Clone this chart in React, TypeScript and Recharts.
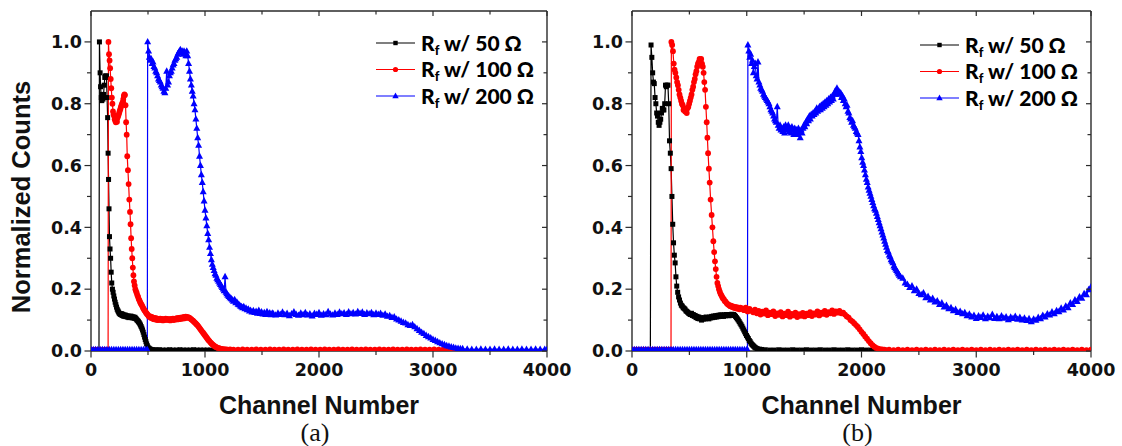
import React from 'react';
import { LineChart, Line, XAxis, YAxis, Legend } from 'recharts';

type Pt = [number, number];

// ---------- axes / labels ----------
const CHANNEL_TICKS = [0, 500, 1000, 1500, 2000, 2500, 3000, 3500, 4000];
const CHANNEL_MAJOR = [0, 1000, 2000, 3000, 4000];
const COUNT_TICKS = [0, 0.1, 0.2, 0.3, 0.4, 0.5, 0.6, 0.7, 0.8, 0.9, 1.0];
const COUNT_MAJOR = [0, 0.2, 0.4, 0.6, 0.8, 1.0];
const SERIES_LABELS = ['50 Ω', '100 Ω', '200 Ω'];
const SERIES_COLORS = ['#000000', '#ff0000', '#0000ff'];
const X_TITLE = 'Channel Number';
const Y_TITLE = 'Normalized Counts';

// ---------- panel (a) ----------
const A_50: Pt[] = [
  [0, 0.004], [20, 0.004], [40, 0.004], [60, 0.004], [70, 0.004], [74, 1.0], [80, 0.9], [84, 0.855], [90, 0.82], [95, 0.81],
  [100, 0.83], [105, 0.815], [110, 0.83], [116, 0.86], [121, 0.885], [126, 0.89], [131, 0.885], [136, 0.89], [141, 0.82], [146, 0.755],
  [150, 0.64], [154, 0.555], [158, 0.46], [162, 0.37], [167, 0.33], [172, 0.3], [177, 0.255], [182, 0.22], [188, 0.2], [194, 0.19],
  [200, 0.178], [206, 0.168], [212, 0.158], [218, 0.15], [224, 0.142], [230, 0.135], [236, 0.13], [242, 0.126], [248, 0.122], [254, 0.12],
  [260, 0.118], [266, 0.121], [272, 0.115], [278, 0.119], [284, 0.113], [290, 0.117], [296, 0.112], [302, 0.116], [308, 0.111], [314, 0.114],
  [320, 0.11], [326, 0.113], [332, 0.108], [338, 0.112], [344, 0.109], [350, 0.113], [356, 0.108], [362, 0.111], [368, 0.107], [374, 0.11],
  [380, 0.106], [386, 0.109], [392, 0.105], [398, 0.103], [404, 0.1], [410, 0.098], [416, 0.095], [422, 0.092], [428, 0.088], [434, 0.084],
  [440, 0.079], [446, 0.074], [452, 0.068], [458, 0.061], [464, 0.053], [470, 0.045], [476, 0.037], [482, 0.03], [488, 0.023], [494, 0.017],
  [500, 0.012], [508, 0.009], [516, 0.007], [526, 0.005], [540, 0.004], [560, 0.004], [580, 0.003], [600, 0.004], [630, 0.003], [660, 0.003],
  [690, 0.004], [720, 0.003], [750, 0.003], [780, 0.004], [810, 0.003], [840, 0.003], [870, 0.003], [900, 0.004], [930, 0.003], [960, 0.003],
  [990, 0.003], [1020, 0.003], [1050, 0.003], [1080, 0.003], [1110, 0.003], [1140, 0.003], [1170, 0.003], [1200, 0.003],
];

const A_100: Pt[] = [
  [0, 0.004], [40, 0.004], [80, 0.004], [120, 0.004], [150, 0.004], [153, 1.0], [158, 0.96], [163, 0.94], [168, 0.915], [173, 0.88],
  [178, 0.85], [183, 0.82], [188, 0.8], [193, 0.775], [198, 0.765], [203, 0.76], [208, 0.75], [213, 0.745], [218, 0.74], [223, 0.748],
  [228, 0.742], [233, 0.755], [238, 0.76], [243, 0.765], [248, 0.772], [253, 0.778], [258, 0.783], [263, 0.79], [268, 0.795], [273, 0.8],
  [278, 0.805], [283, 0.815], [288, 0.825], [293, 0.83], [298, 0.828], [303, 0.795], [308, 0.74], [313, 0.7], [318, 0.63], [324, 0.585],
  [330, 0.54], [336, 0.49], [342, 0.45], [347, 0.41], [352, 0.365], [357, 0.33], [362, 0.3], [367, 0.27], [372, 0.245], [377, 0.225],
  [383, 0.212], [389, 0.2], [395, 0.193], [401, 0.188], [407, 0.18], [413, 0.175], [419, 0.168], [425, 0.164], [431, 0.158], [437, 0.154],
  [443, 0.15], [449, 0.146], [455, 0.141], [461, 0.137], [467, 0.133], [473, 0.13], [479, 0.126], [485, 0.123], [491, 0.12], [497, 0.118],
  [503, 0.114], [509, 0.112], [515, 0.11], [521, 0.112], [527, 0.107], [533, 0.11], [539, 0.105], [545, 0.108], [551, 0.103], [557, 0.107],
  [563, 0.102], [569, 0.106], [575, 0.101], [581, 0.105], [587, 0.1], [593, 0.104], [599, 0.101], [607, 0.105], [615, 0.1], [623, 0.104],
  [631, 0.099], [639, 0.103], [647, 0.1], [655, 0.105], [663, 0.101], [671, 0.104], [679, 0.1], [687, 0.103], [695, 0.099], [703, 0.104],
  [711, 0.101], [719, 0.105], [727, 0.1], [735, 0.104], [743, 0.102], [751, 0.106], [759, 0.102], [767, 0.107], [775, 0.103], [783, 0.108],
  [791, 0.104], [799, 0.109], [807, 0.105], [815, 0.11], [823, 0.106], [831, 0.111], [839, 0.108], [847, 0.11], [855, 0.107], [863, 0.108],
  [871, 0.105], [879, 0.103], [887, 0.1], [895, 0.098], [903, 0.095], [911, 0.092], [919, 0.089], [927, 0.086], [935, 0.083], [943, 0.079],
  [951, 0.075], [959, 0.071], [967, 0.067], [975, 0.063], [983, 0.059], [991, 0.055], [999, 0.051], [1007, 0.047], [1015, 0.043], [1023, 0.039],
  [1031, 0.035], [1039, 0.032], [1047, 0.028], [1055, 0.025], [1063, 0.022], [1071, 0.02], [1079, 0.017], [1087, 0.015], [1095, 0.013], [1103, 0.012],
  [1113, 0.01], [1123, 0.009], [1135, 0.008], [1150, 0.007], [1170, 0.006], [1190, 0.005], [1220, 0.005], [1250, 0.004], [1290, 0.004], [1330, 0.005],
  [1370, 0.004], [1410, 0.004], [1450, 0.005], [1490, 0.004], [1530, 0.004], [1570, 0.005], [1610, 0.004], [1650, 0.004], [1690, 0.005], [1730, 0.004],
  [1770, 0.004], [1810, 0.005], [1850, 0.004], [1890, 0.004], [1930, 0.005], [1970, 0.004], [2010, 0.004], [2050, 0.005], [2090, 0.004], [2130, 0.004],
  [2170, 0.005], [2210, 0.004], [2250, 0.004], [2290, 0.005], [2330, 0.004], [2370, 0.004], [2410, 0.005], [2450, 0.004], [2490, 0.004], [2530, 0.005],
  [2570, 0.004], [2610, 0.004], [2650, 0.005], [2690, 0.004], [2730, 0.004], [2770, 0.005], [2810, 0.004], [2850, 0.004], [2890, 0.005], [2930, 0.004],
  [2970, 0.004], [3010, 0.005], [3050, 0.004], [3090, 0.004], [3130, 0.005], [3170, 0.004], [3200, 0.004],
];

const A_200: Pt[] = [
  [0, 0.004], [20, 0.004], [40, 0.004], [60, 0.004], [80, 0.004], [100, 0.004], [120, 0.004], [140, 0.004], [160, 0.004], [180, 0.004],
  [200, 0.004], [220, 0.004], [240, 0.004], [260, 0.004], [280, 0.004], [300, 0.004], [320, 0.004], [340, 0.004], [360, 0.004], [380, 0.004],
  [400, 0.004], [420, 0.004], [440, 0.004], [460, 0.004], [480, 0.004], [494, 0.004],
  [497, 1.0], [505, 0.97], [512, 0.95], [520, 0.94], [528, 0.945], [536, 0.93], [544, 0.935], [552, 0.92], [560, 0.915], [568, 0.905],
  [576, 0.9], [584, 0.89], [592, 0.88], [600, 0.875], [608, 0.87], [616, 0.86], [624, 0.855], [632, 0.85], [640, 0.84], [648, 0.835],
  [656, 0.85], [664, 0.905], [672, 0.86], [680, 0.87], [688, 0.89], [696, 0.9], [704, 0.905], [712, 0.915], [720, 0.925], [728, 0.93],
  [736, 0.94], [744, 0.945], [752, 0.95], [760, 0.96], [768, 0.965], [776, 0.97], [784, 0.975], [792, 0.965], [800, 0.97], [808, 0.96],
  [816, 0.97], [824, 0.965], [832, 0.955], [840, 0.97], [848, 0.955], [856, 0.93], [864, 0.905], [872, 0.88], [880, 0.86], [888, 0.84],
  [896, 0.825], [904, 0.8], [912, 0.78], [920, 0.75], [928, 0.72], [936, 0.69], [944, 0.665], [952, 0.63], [960, 0.6], [968, 0.57],
  [976, 0.545], [984, 0.515], [992, 0.485], [1000, 0.455], [1008, 0.43], [1016, 0.405], [1024, 0.38], [1032, 0.36], [1040, 0.335], [1048, 0.315],
  [1056, 0.295], [1064, 0.28], [1072, 0.27], [1080, 0.26], [1088, 0.25], [1096, 0.245], [1104, 0.235], [1112, 0.23], [1120, 0.225], [1128, 0.22],
  [1136, 0.215], [1144, 0.21], [1152, 0.205], [1160, 0.2], [1168, 0.195], [1176, 0.24], [1184, 0.19], [1192, 0.185], [1200, 0.18], [1210, 0.176],
  [1220, 0.172], [1230, 0.169], [1240, 0.165], [1250, 0.161], [1260, 0.166], [1270, 0.156], [1280, 0.158], [1290, 0.151], [1300, 0.149], [1310, 0.145],
  [1320, 0.143], [1330, 0.14], [1340, 0.143], [1350, 0.136], [1360, 0.138], [1370, 0.133], [1380, 0.135], [1390, 0.129], [1400, 0.131], [1412, 0.126],
  [1424, 0.13], [1436, 0.124], [1448, 0.128], [1460, 0.122], [1472, 0.131], [1484, 0.121], [1496, 0.126], [1508, 0.119], [1520, 0.124], [1532, 0.118],
  [1544, 0.127], [1556, 0.119], [1568, 0.123], [1580, 0.117], [1590, 0.122], [1600, 0.12], [1620, 0.116], [1640, 0.122], [1660, 0.118], [1680, 0.125],
  [1700, 0.117], [1720, 0.121], [1740, 0.114], [1760, 0.12], [1780, 0.126], [1800, 0.118], [1820, 0.115], [1840, 0.122], [1860, 0.117], [1880, 0.124],
  [1900, 0.116], [1920, 0.12], [1940, 0.113], [1960, 0.121], [1980, 0.118], [2000, 0.124], [2020, 0.115], [2040, 0.12], [2060, 0.117], [2080, 0.127],
  [2100, 0.119], [2120, 0.116], [2140, 0.122], [2160, 0.118], [2180, 0.125], [2200, 0.12], [2220, 0.123], [2240, 0.118], [2260, 0.126], [2280, 0.12],
  [2300, 0.124], [2320, 0.119], [2340, 0.127], [2360, 0.121], [2380, 0.125], [2400, 0.118], [2420, 0.123], [2440, 0.12], [2460, 0.124], [2480, 0.117],
  [2500, 0.122], [2520, 0.118], [2540, 0.121], [2560, 0.115], [2580, 0.119], [2600, 0.112], [2620, 0.114], [2640, 0.108], [2660, 0.11], [2680, 0.103],
  [2700, 0.1], [2720, 0.096], [2740, 0.092], [2760, 0.09], [2780, 0.085], [2800, 0.082], [2820, 0.085], [2840, 0.078], [2860, 0.072], [2880, 0.066],
  [2900, 0.06], [2920, 0.056], [2940, 0.05], [2960, 0.046], [2980, 0.042], [3000, 0.037], [3020, 0.034], [3040, 0.03], [3060, 0.026], [3080, 0.023],
  [3100, 0.02], [3120, 0.017], [3140, 0.015], [3160, 0.013], [3180, 0.011], [3200, 0.009], [3220, 0.008], [3240, 0.007], [3260, 0.007], [3300, 0.006],
  [3340, 0.005], [3380, 0.005], [3420, 0.006], [3460, 0.005], [3500, 0.005], [3540, 0.006], [3580, 0.005], [3620, 0.005], [3660, 0.006], [3700, 0.005],
  [3740, 0.005], [3780, 0.006], [3820, 0.005], [3860, 0.005], [3900, 0.006], [3940, 0.005], [3980, 0.005], [4000, 0.005],
];

// ---------- panel (b) ----------
const B_50: Pt[] = [
  [0, 0.004], [20, 0.004], [40, 0.004], [60, 0.004], [80, 0.004], [100, 0.004], [120, 0.004], [140, 0.004], [160, 0.004],
  [166, 0.99], [173, 0.95], [180, 0.9], [187, 0.87], [194, 0.865], [201, 0.82], [208, 0.8], [215, 0.77], [222, 0.76], [229, 0.74],
  [236, 0.73], [243, 0.74], [250, 0.75], [257, 0.77], [264, 0.785], [271, 0.78], [278, 0.78], [285, 0.8], [292, 0.86], [299, 0.855],
  [306, 0.86], [313, 0.86], [320, 0.8], [327, 0.68], [334, 0.64], [341, 0.59], [348, 0.5], [355, 0.41], [362, 0.35], [369, 0.31],
  [376, 0.285], [383, 0.24], [390, 0.21], [398, 0.19], [406, 0.175], [414, 0.165], [422, 0.155], [430, 0.148], [438, 0.145], [446, 0.14],
  [454, 0.138], [462, 0.135], [470, 0.13], [478, 0.128], [486, 0.125], [494, 0.122], [502, 0.12], [510, 0.118], [518, 0.122], [526, 0.115],
  [534, 0.118], [542, 0.112], [550, 0.115], [558, 0.108], [566, 0.112], [574, 0.105], [582, 0.11], [590, 0.104], [598, 0.108], [606, 0.1],
  [614, 0.106], [622, 0.103], [630, 0.108], [638, 0.104], [646, 0.11], [654, 0.106], [662, 0.108], [670, 0.104], [678, 0.11], [686, 0.107],
  [694, 0.112], [702, 0.108], [710, 0.113], [718, 0.109], [726, 0.114], [734, 0.11], [742, 0.115], [750, 0.111], [758, 0.116], [766, 0.112],
  [774, 0.117], [782, 0.113], [790, 0.116], [798, 0.112], [806, 0.117], [814, 0.114], [822, 0.118], [830, 0.115], [838, 0.118], [846, 0.114],
  [854, 0.118], [862, 0.116], [870, 0.119], [878, 0.116], [886, 0.118], [894, 0.115], [902, 0.112], [910, 0.108], [918, 0.104], [926, 0.1],
  [934, 0.095], [942, 0.09], [950, 0.085], [958, 0.08], [966, 0.074], [974, 0.068], [982, 0.062], [990, 0.056], [998, 0.05], [1006, 0.045],
  [1014, 0.04], [1022, 0.034], [1030, 0.03], [1038, 0.025], [1046, 0.021], [1054, 0.018], [1062, 0.015], [1070, 0.012], [1078, 0.01], [1090, 0.008],
  [1110, 0.006], [1130, 0.005], [1160, 0.004], [1200, 0.003], [1240, 0.003], [1280, 0.004], [1320, 0.003], [1360, 0.003], [1400, 0.004], [1440, 0.003],
  [1480, 0.003], [1520, 0.004], [1560, 0.003], [1600, 0.003], [1640, 0.004], [1680, 0.003], [1720, 0.003], [1760, 0.004], [1800, 0.003], [1840, 0.003],
  [1880, 0.004], [1920, 0.003], [1960, 0.003], [2000, 0.004], [2040, 0.003], [2080, 0.003], [2120, 0.004], [2160, 0.003], [2200, 0.003],
];

const B_100: Pt[] = [
  [0, 0.004], [20, 0.004], [40, 0.004], [60, 0.004], [80, 0.004], [100, 0.004], [120, 0.004], [140, 0.004], [160, 0.004], [180, 0.004],
  [200, 0.004], [220, 0.004], [240, 0.004], [260, 0.004], [280, 0.004], [300, 0.004], [320, 0.004], [340, 0.004],
  [343, 1.0], [350, 0.99], [357, 0.97], [364, 0.93], [371, 0.91], [378, 0.9], [386, 0.885], [393, 0.87], [400, 0.86], [407, 0.845],
  [414, 0.83], [421, 0.82], [428, 0.81], [435, 0.8], [442, 0.795], [449, 0.78], [456, 0.785], [463, 0.775], [470, 0.78], [477, 0.77],
  [484, 0.785], [491, 0.79], [498, 0.8], [505, 0.81], [512, 0.82], [519, 0.83], [526, 0.845], [533, 0.855], [540, 0.87], [547, 0.88],
  [554, 0.895], [561, 0.905], [568, 0.92], [575, 0.93], [582, 0.935], [589, 0.945], [596, 0.94], [603, 0.945], [610, 0.93], [617, 0.92],
  [624, 0.9], [630, 0.87], [637, 0.845], [644, 0.79], [651, 0.74], [657, 0.69], [663, 0.64], [670, 0.59], [677, 0.545], [685, 0.49],
  [694, 0.44], [701, 0.4], [709, 0.355], [716, 0.32], [723, 0.29], [730, 0.265], [737, 0.24], [744, 0.22], [751, 0.21], [758, 0.2],
  [765, 0.192], [772, 0.185], [779, 0.18], [786, 0.175], [793, 0.17], [800, 0.168], [808, 0.162], [816, 0.16], [824, 0.155], [832, 0.152],
  [840, 0.15], [848, 0.148], [856, 0.145], [864, 0.147], [872, 0.142], [880, 0.144], [888, 0.14], [896, 0.143], [904, 0.138], [912, 0.142],
  [920, 0.137], [928, 0.14], [936, 0.135], [944, 0.14], [952, 0.136], [960, 0.138], [976, 0.132], [992, 0.14], [1008, 0.128], [1024, 0.136],
  [1040, 0.13], [1056, 0.125], [1072, 0.134], [1088, 0.122], [1104, 0.13], [1120, 0.118], [1136, 0.127], [1152, 0.121], [1168, 0.131], [1184, 0.116],
  [1200, 0.124], [1216, 0.119], [1232, 0.128], [1248, 0.113], [1264, 0.122], [1280, 0.117], [1296, 0.126], [1312, 0.112], [1328, 0.121], [1344, 0.116],
  [1360, 0.127], [1376, 0.111], [1392, 0.12], [1408, 0.115], [1424, 0.124], [1440, 0.11], [1456, 0.119], [1472, 0.114], [1488, 0.123], [1504, 0.112],
  [1520, 0.121], [1536, 0.116], [1552, 0.126], [1568, 0.113], [1584, 0.122], [1600, 0.118], [1616, 0.128], [1632, 0.115], [1648, 0.124], [1664, 0.12],
  [1680, 0.13], [1696, 0.117], [1712, 0.126], [1728, 0.122], [1744, 0.131], [1760, 0.12], [1776, 0.128], [1792, 0.124], [1808, 0.13], [1824, 0.122],
  [1840, 0.124], [1856, 0.118], [1872, 0.112], [1888, 0.108], [1904, 0.1], [1920, 0.096], [1936, 0.09], [1952, 0.084], [1968, 0.078], [1984, 0.07],
  [2000, 0.062], [2016, 0.055], [2032, 0.047], [2048, 0.04], [2064, 0.032], [2080, 0.025], [2096, 0.019], [2112, 0.014], [2128, 0.01], [2144, 0.008],
  [2160, 0.006], [2180, 0.005], [2200, 0.004], [2240, 0.004], [2280, 0.003], [2320, 0.004], [2360, 0.003], [2400, 0.004], [2440, 0.003], [2480, 0.004],
  [2520, 0.003], [2560, 0.004], [2600, 0.003], [2640, 0.004], [2680, 0.003], [2720, 0.004], [2760, 0.003], [2800, 0.004], [2840, 0.003], [2880, 0.004],
  [2920, 0.003], [2960, 0.004], [3000, 0.003], [3040, 0.004], [3080, 0.003], [3120, 0.004], [3160, 0.003], [3200, 0.004], [3240, 0.003], [3280, 0.004],
  [3320, 0.003], [3360, 0.004], [3400, 0.003], [3440, 0.004], [3480, 0.003], [3520, 0.004], [3560, 0.003], [3600, 0.004], [3640, 0.003], [3680, 0.004],
  [3720, 0.003], [3760, 0.004], [3800, 0.003], [3840, 0.004], [3880, 0.003], [3920, 0.004], [3960, 0.003], [4000, 0.004],
];

const B_200: Pt[] = [
  [0, 0.004], [20, 0.004], [40, 0.004], [60, 0.004], [80, 0.004], [100, 0.004], [120, 0.004], [140, 0.004], [160, 0.004], [180, 0.004],
  [200, 0.004], [220, 0.004], [240, 0.004], [260, 0.004], [280, 0.004], [300, 0.004], [320, 0.004], [340, 0.004], [360, 0.004], [380, 0.004],
  [400, 0.004], [420, 0.004], [440, 0.004], [460, 0.004], [480, 0.004], [500, 0.004], [520, 0.004], [540, 0.004], [560, 0.004], [580, 0.004],
  [600, 0.004], [620, 0.004], [640, 0.004], [660, 0.004], [680, 0.004], [700, 0.004], [720, 0.004], [740, 0.004], [760, 0.004], [780, 0.004],
  [800, 0.004], [820, 0.004], [840, 0.004], [860, 0.004], [880, 0.004], [900, 0.004], [920, 0.004], [940, 0.004], [960, 0.004], [980, 0.004],
  [1000, 0.004], [1006, 0.004],
  [1010, 0.99], [1018, 0.97], [1026, 0.95], [1034, 0.96], [1042, 0.93], [1050, 0.94], [1058, 0.9], [1066, 0.92], [1074, 0.93], [1082, 0.89],
  [1090, 0.88], [1098, 0.935], [1106, 0.87], [1114, 0.86], [1122, 0.85], [1130, 0.845], [1138, 0.84], [1146, 0.83], [1154, 0.825], [1162, 0.82],
  [1170, 0.815], [1178, 0.81], [1186, 0.805], [1194, 0.8], [1202, 0.79], [1210, 0.78], [1218, 0.775], [1226, 0.77], [1234, 0.76], [1242, 0.75],
  [1250, 0.745], [1258, 0.74], [1266, 0.79], [1274, 0.73], [1282, 0.72], [1290, 0.73], [1298, 0.715], [1306, 0.72], [1314, 0.71], [1322, 0.725],
  [1330, 0.705], [1338, 0.73], [1346, 0.72], [1354, 0.715], [1362, 0.73], [1370, 0.71], [1378, 0.72], [1386, 0.705], [1394, 0.725], [1402, 0.715],
  [1410, 0.7], [1418, 0.72], [1426, 0.705], [1434, 0.715], [1442, 0.7], [1450, 0.72], [1458, 0.71], [1466, 0.69], [1474, 0.715], [1482, 0.705],
  [1490, 0.72], [1498, 0.73], [1506, 0.725], [1514, 0.74], [1522, 0.735], [1530, 0.75], [1538, 0.745], [1546, 0.76], [1554, 0.75], [1562, 0.765],
  [1570, 0.76], [1578, 0.77], [1586, 0.765], [1594, 0.775], [1602, 0.77], [1610, 0.785], [1618, 0.775], [1626, 0.78], [1634, 0.79], [1642, 0.78],
  [1650, 0.795], [1658, 0.785], [1666, 0.8], [1674, 0.79], [1682, 0.805], [1690, 0.795], [1698, 0.81], [1706, 0.8], [1714, 0.815], [1722, 0.805],
  [1730, 0.82], [1738, 0.81], [1746, 0.825], [1754, 0.815], [1762, 0.83], [1770, 0.84], [1778, 0.83], [1786, 0.85], [1794, 0.835], [1802, 0.84],
  [1810, 0.83], [1818, 0.835], [1826, 0.82], [1834, 0.825], [1842, 0.81], [1850, 0.815], [1858, 0.8], [1866, 0.79], [1874, 0.795], [1882, 0.775],
  [1890, 0.77], [1898, 0.755], [1906, 0.75], [1914, 0.74], [1922, 0.745], [1930, 0.73], [1938, 0.725], [1946, 0.72], [1954, 0.71], [1962, 0.705],
  [1970, 0.7], [1978, 0.68], [1986, 0.66], [1994, 0.645], [2002, 0.625], [2010, 0.61], [2018, 0.6], [2026, 0.585], [2034, 0.57], [2042, 0.555],
  [2050, 0.545], [2058, 0.53], [2066, 0.52], [2074, 0.51], [2082, 0.5], [2090, 0.49], [2098, 0.48], [2106, 0.47], [2114, 0.46], [2122, 0.455],
  [2130, 0.445], [2138, 0.435], [2146, 0.425], [2154, 0.415], [2162, 0.405], [2170, 0.395], [2178, 0.385], [2186, 0.375], [2194, 0.365], [2202, 0.355],
  [2210, 0.345], [2218, 0.335], [2226, 0.325], [2234, 0.32], [2242, 0.31], [2250, 0.305], [2258, 0.295], [2266, 0.29], [2274, 0.285], [2282, 0.275],
  [2290, 0.27], [2298, 0.265], [2306, 0.26], [2314, 0.255], [2322, 0.25], [2330, 0.245], [2340, 0.24], [2360, 0.235], [2380, 0.22], [2400, 0.215],
  [2420, 0.205], [2440, 0.21], [2460, 0.195], [2480, 0.2], [2500, 0.186], [2520, 0.182], [2540, 0.188], [2560, 0.172], [2580, 0.176], [2600, 0.165],
  [2620, 0.17], [2640, 0.158], [2660, 0.162], [2680, 0.15], [2700, 0.155], [2720, 0.142], [2740, 0.147], [2760, 0.136], [2780, 0.14], [2800, 0.13],
  [2820, 0.134], [2840, 0.124], [2860, 0.128], [2880, 0.12], [2900, 0.124], [2920, 0.114], [2940, 0.119], [2960, 0.11], [2980, 0.115], [3000, 0.105],
  [3020, 0.113], [3040, 0.108], [3060, 0.116], [3080, 0.104], [3100, 0.112], [3120, 0.107], [3140, 0.118], [3160, 0.105], [3180, 0.111], [3200, 0.104],
  [3220, 0.113], [3240, 0.106], [3260, 0.11], [3280, 0.101], [3300, 0.109], [3320, 0.105], [3340, 0.112], [3360, 0.102], [3380, 0.108], [3400, 0.1],
  [3420, 0.106], [3440, 0.098], [3460, 0.104], [3480, 0.094], [3500, 0.103], [3520, 0.099], [3540, 0.108], [3560, 0.104], [3580, 0.115], [3600, 0.11],
  [3620, 0.12], [3640, 0.116], [3660, 0.126], [3680, 0.12], [3700, 0.13], [3720, 0.127], [3740, 0.138], [3760, 0.132], [3780, 0.145], [3800, 0.14],
  [3820, 0.155], [3840, 0.15], [3860, 0.165], [3880, 0.16], [3900, 0.175], [3920, 0.17], [3940, 0.185], [3960, 0.182], [3980, 0.198], [4000, 0.207],
];

// ---------- rendering helpers ----------
const AXIS_COLOR = '#2a2a2a';
const TICK_FONT = '"DejaVu Sans", "Liberation Sans", sans-serif';
const TITLE_FONT = '"Liberation Sans", Arial, sans-serif';

const toRows = (pts: Pt[]) => pts.map(([ch, v]) => ({ ch, v }));

type Side = 'left' | 'right' | 'top' | 'bottom';

const makeTick = (side: Side, major: number[], fmt: ((v: number) => string) | null) => (props: any) => {
  const { x, y, payload } = props;
  const v = payload?.value as number;
  const isMajor = major.includes(v);
  const outLen = isMajor ? 6.5 : 4;
  const inLen = isMajor ? 5 : 3.5;
  let line: React.ReactNode = null;
  let text: React.ReactNode = null;
  const common = { stroke: AXIS_COLOR, strokeWidth: 1.2 };
  if (side === 'left') {
    line = <line x1={x - outLen} x2={x} y1={y} y2={y} {...common} />;
    if (isMajor && fmt)
      text = (
        <text x={x - 9} y={y} dy="0.36em" textAnchor="end" fontFamily={TICK_FONT} fontWeight={700} fontSize={17.5} fill="#111">
          {fmt(v)}
        </text>
      );
  } else if (side === 'bottom') {
    line = <line x1={x} x2={x} y1={y} y2={y + outLen} {...common} />;
    if (isMajor && fmt)
      text = (
        <text x={x} y={y + 19} dy="0.36em" textAnchor="middle" fontFamily={TICK_FONT} fontWeight={700} fontSize={17.5} fill="#111">
          {fmt(v)}
        </text>
      );
  } else if (side === 'top') {
    line = <line x1={x} x2={x} y1={y} y2={y + inLen} {...common} />;
  } else {
    line = <line x1={x - inLen} x2={x} y1={y} y2={y} {...common} />;
  }
  return (
    <g>
      {line}
      {text}
    </g>
  );
};

const SQ = 2.5;
const CR = 2.9;
const TRI_W = 3.5;
const TRI_UP = 4;
const TRI_DN = 2.4;

const squareDot = (color: string) => (p: any) => {
  if (p.cx == null || p.cy == null) return <g key={`s${p.index}`} />;
  return <rect key={`s${p.index}`} x={p.cx - SQ} y={p.cy - SQ} width={SQ * 2} height={SQ * 2} fill={color} />;
};
const circleDot = (color: string) => (p: any) => {
  if (p.cx == null || p.cy == null) return <g key={`c${p.index}`} />;
  return <circle key={`c${p.index}`} cx={p.cx} cy={p.cy} r={CR} fill={color} />;
};
const triDot = (color: string) => (p: any) => {
  if (p.cx == null || p.cy == null) return <g key={`t${p.index}`} />;
  const { cx, cy } = p;
  return (
    <polygon
      key={`t${p.index}`}
      points={`${cx},${cy - TRI_UP} ${cx - TRI_W},${cy + TRI_DN} ${cx + TRI_W},${cy + TRI_DN}`}
      fill={color}
    />
  );
};
const DOTS = [squareDot, circleDot, triDot];

const legendMarker = (i: number, cx: number, cy: number, color: string) => {
  if (i === 0) return <rect x={cx - 2.2} y={cy - 2.2} width={4.4} height={4.4} fill={color} />;
  if (i === 1) return <circle cx={cx} cy={cy} r={2.6} fill={color} />;
  return <polygon points={`${cx},${cy - 3.6} ${cx - 3.2},${cy + 2.2} ${cx + 3.2},${cy + 2.2}`} fill={color} />;
};

const LegendBox = () => (
  <svg width={200} height={82} style={{ display: 'block', overflow: 'visible' }}>
    {SERIES_LABELS.map((lab, i) => {
      const cy = 14 + i * 26.5;
      const color = SERIES_COLORS[i];
      return (
        <g key={lab}>
          <line x1={5} x2={44} y1={cy} y2={cy} stroke={color} strokeWidth={1.2} />
          {legendMarker(i, 24.5, cy, color)}
          <text x={50} y={cy + 7.5} fontFamily='Lato, "Open Sans", sans-serif' fontWeight={900} fontSize={21} fill="#000">
            R
            <tspan fontSize={13} dy={4}>
              f
            </tspan>
            <tspan dy={-4}>{`\u00A0w/ ${lab}`}</tspan>
          </text>
        </g>
      );
    })}
  </svg>
);

const XTitle = ({ viewBox, caption }: any) => {
  const vb = viewBox || { x: 0, y: 0, width: 0, height: 0 };
  const cx = vb.x + vb.width / 2;
  const base = vb.y;
  return (
    <g>
      <text x={cx} y={base + 63} textAnchor="middle" fontFamily={TITLE_FONT} fontWeight={700} fontSize={25} fill="#111">
        {X_TITLE}
      </text>
      <text x={cx - 4} y={base + 90} textAnchor="middle" fontFamily='"Liberation Serif", "DejaVu Serif", serif' fontSize={26} fill="#111">
        {caption}
      </text>
    </g>
  );
};

const YTitle = ({ viewBox }: any) => {
  const vb = viewBox || { x: 0, y: 0, width: 0, height: 0 };
  const x = vb.x + 21;
  const y = vb.y + vb.height / 2 + 16;
  return (
    <text x={x} y={y} dy="0.36em" transform={`rotate(-90 ${x} ${y})`} textAnchor="middle" fontFamily={TITLE_FONT} fontWeight={700} fontSize={25.5} fill="#111">
      {Y_TITLE}
    </text>
  );
};

type PanelProps = {
  series: Pt[][];
  width: number;
  yAxisWidth: number;
  marginRight: number;
  caption: string;
  showYTitle: boolean;
  legendLeft: number;
  legendTop: number;
};

const fmtCount = (v: number) => v.toFixed(1);
const fmtChannel = (v: number) => String(v);

const Panel = ({ series, width, yAxisWidth, marginRight, caption, showYTitle, legendLeft, legendTop }: PanelProps) => (
  <LineChart width={width} height={446} margin={{ top: 10, right: marginRight, bottom: 94, left: 0 }}>
    <XAxis
      xAxisId="b"
      dataKey="ch"
      type="number"
      domain={[0, 4000]}
      allowDataOverflow
      ticks={CHANNEL_TICKS}
      interval={0}
      height={1}
      tickSize={0}
      tickMargin={0}
      tickLine={false}
      axisLine={{ stroke: AXIS_COLOR, strokeWidth: 1.4 }}
      tick={makeTick('bottom', CHANNEL_MAJOR, fmtChannel)}
      label={<XTitle caption={caption} />}
    />
    <XAxis
      xAxisId="t"
      orientation="top"
      dataKey="ch"
      type="number"
      domain={[0, 4000]}
      allowDataOverflow
      ticks={CHANNEL_TICKS}
      interval={0}
      height={1}
      tickSize={0}
      tickMargin={0}
      tickLine={false}
      axisLine={{ stroke: AXIS_COLOR, strokeWidth: 1.4 }}
      tick={makeTick('top', CHANNEL_MAJOR, null)}
    />
    <YAxis
      yAxisId="l"
      type="number"
      domain={[0, 1.1]}
      allowDataOverflow
      ticks={COUNT_TICKS}
      interval={0}
      width={yAxisWidth}
      tickSize={0}
      tickMargin={0}
      tickLine={false}
      axisLine={{ stroke: AXIS_COLOR, strokeWidth: 1.4 }}
      tick={makeTick('left', COUNT_MAJOR, fmtCount)}
      label={showYTitle ? <YTitle /> : undefined}
    />
    <YAxis
      yAxisId="r"
      orientation="right"
      type="number"
      domain={[0, 1.1]}
      allowDataOverflow
      ticks={COUNT_TICKS}
      interval={0}
      width={1}
      tickSize={0}
      tickMargin={0}
      tickLine={false}
      axisLine={{ stroke: AXIS_COLOR, strokeWidth: 1.4 }}
      tick={makeTick('right', COUNT_MAJOR, null)}
    />
    <Legend
      layout="horizontal"
      verticalAlign="middle"
      align="center"
      content={<LegendBox />}
      wrapperStyle={{ left: legendLeft, top: legendTop, width: 200, height: 82 }}
    />
    {series.map((pts, i) => (
      <Line
        key={SERIES_LABELS[i]}
        name={`Rf w/ ${SERIES_LABELS[i]}`}
        data={toRows(pts)}
        dataKey="v"
        xAxisId="b"
        yAxisId="l"
        type="linear"
        stroke={SERIES_COLORS[i]}
        strokeWidth={1.2}
        dot={DOTS[i](SERIES_COLORS[i])}
        activeDot={false}
        isAnimationActive={false}
      />
    ))}
  </LineChart>
);

export default function App() {
  return (
    <div style={{ position: 'absolute', left: 0, top: 0, width: 1122, height: 446, background: '#fff', overflow: 'hidden' }}>
      <div style={{ position: 'absolute', left: 0, top: 0 }}>
        <Panel
          series={[A_50, A_100, A_200]}
          width={600}
          yAxisWidth={91}
          marginRight={52}
          caption="(a)"
          showYTitle
          legendLeft={371}
          legendTop={29}
        />
      </div>
      <div style={{ position: 'absolute', left: 560, top: 0 }}>
        <Panel
          series={[B_50, B_100, B_200]}
          width={562}
          yAxisWidth={72}
          marginRight={30}
          caption="(b)"
          showYTitle={false}
          legendLeft={355}
          legendTop={31}
        />
      </div>
    </div>
  );
}
